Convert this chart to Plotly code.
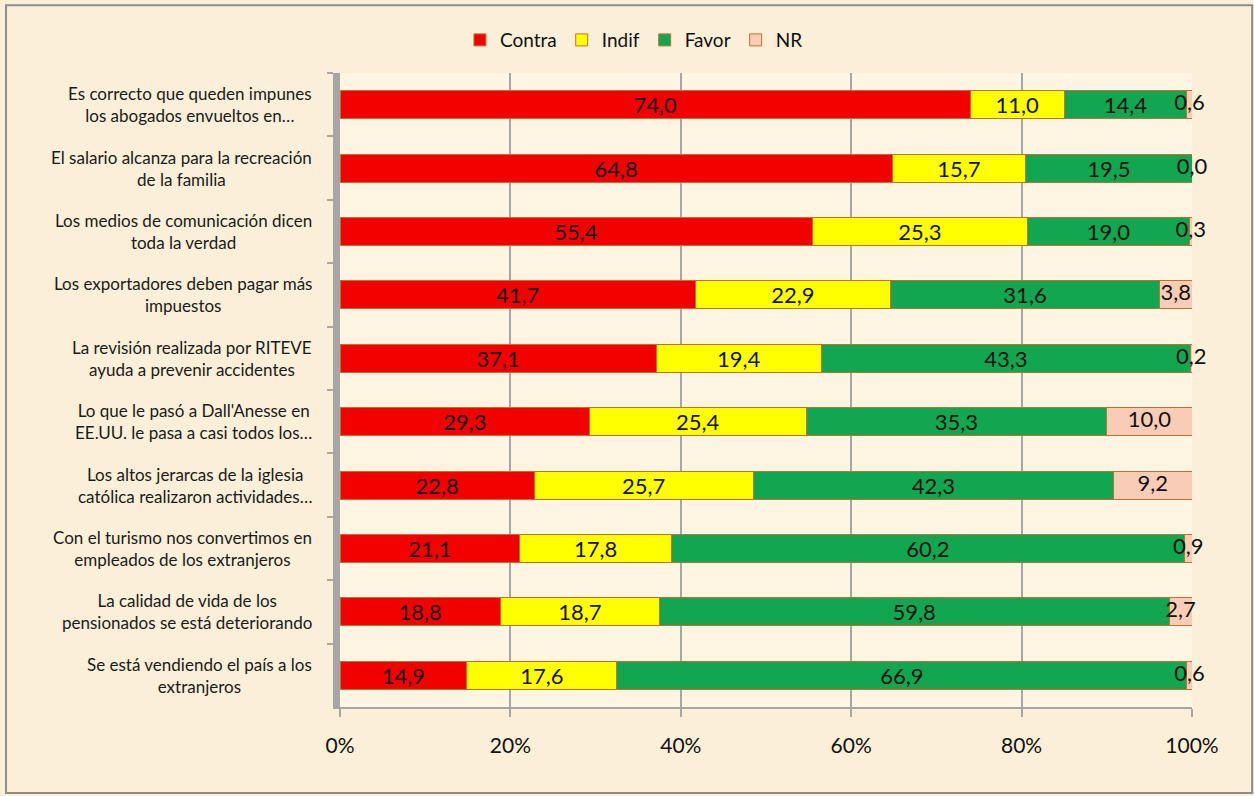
import plotly.graph_objects as go

CATEGORIES = [
    "Es correcto que queden impunes<br>los abogados envueltos en…",
    "El salario alcanza para la recreación<br>de la familia",
    "Los medios de comunicación dicen<br>toda la verdad",
    "Los exportadores deben pagar más<br>impuestos",
    "La revisión realizada por RITEVE<br>ayuda a prevenir accidentes",
    "Lo que le pasó a Dall'Anesse en<br>EE.UU. le pasa a casi todos los…",
    "Los altos jerarcas de la iglesia<br>católica realizaron actividades…",
    "Con el turismo nos convertimos en<br>empleados de los extranjeros",
    "La calidad de vida de los<br>pensionados se está deteriorando",
    "Se está vendiendo el país a los<br>extranjeros",
]

CONTRA = [74.0, 64.8, 55.4, 41.7, 37.1, 29.3, 22.8, 21.1, 18.8, 14.9]
INDIF = [11.0, 15.7, 25.3, 22.9, 19.4, 25.4, 25.7, 17.8, 18.7, 17.6]
FAVOR = [14.4, 19.5, 19.0, 31.6, 43.3, 35.3, 42.3, 60.2, 59.8, 66.9]
NR = [0.6, 0.0, 0.3, 3.8, 0.2, 10.0, 9.2, 0.9, 2.7, 0.6]

SERIES = [
    ("Contra", CONTRA, "#F20000"),
    ("Indif", INDIF, "#FFFF00"),
    ("Favor", FAVOR, "#12A650"),
    ("NR", NR, "#F9CDB5"),
]

FONT = "Lato, 'Open Sans', sans-serif"
LABEL_FONT = dict(size=22, color="#111111", family=FONT)

fig = go.Figure()
for name, vals, color in SERIES:
    is_nr = name == "NR"
    fig.add_trace(go.Bar(
        y=CATEGORIES, x=vals, name=name, orientation="h",
        marker=dict(color=color, line=dict(color="#C07030", width=1)),
        texttemplate=None if is_nr else "%{x:.1f}",
        textposition="none" if is_nr else "inside", textangle=0,
        insidetextanchor="middle", constraintext="none",
        textfont=LABEL_FONT,
    ))

# NR labels sit centred on the (often tiny) last segment, overflowing it
nr_mid = [c + i + f + n / 2 for c, i, f, n in zip(CONTRA, INDIF, FAVOR, NR)]
fig.add_trace(go.Scatter(
    x=nr_mid, y=CATEGORIES, mode="text",
    text=[f"{n:.1f}".replace(".", ",") for n in NR],
    textposition="middle center", textfont=LABEL_FONT,
    showlegend=False, hoverinfo="skip", cliponaxis=False,
))

# category labels, right-aligned block with centred lines (Excel style)
for cat in CATEGORIES:
    fig.add_annotation(
        x=-0.03, xref="paper", y=cat, yref="y",
        text=cat, showarrow=False, xanchor="right", align="center",
        font=dict(size=17, color="#1a1a1a", family=FONT),
    )

fig.update_layout(
    width=1254, height=796,
    barmode="stack", bargap=0.56,
    separators=",.",
    paper_bgcolor="#FBEFD8",
    plot_bgcolor="#FEF6E2",
    margin=dict(l=340, r=62, t=73, b=89),
    font=dict(family=FONT, color="#111111"),
    legend=dict(
        orientation="h", x=0.345, xanchor="center", y=1.052, yanchor="middle",
        traceorder="normal",
        font=dict(size=19, color="#111111", family=FONT),
        bgcolor="rgba(0,0,0,0)", itemwidth=30,
    ),
    showlegend=True,
    shapes=[dict(
        type="rect", xref="paper", yref="paper",
        x0=-0.392, x1=1.0706, y0=-0.1356, y1=1.107,
        line=dict(color="#8C8C8C", width=2), fillcolor="rgba(0,0,0,0)",
        layer="below",
    )],
)

fig.update_xaxes(
    range=[0, 100], dtick=20, ticksuffix="%",
    showgrid=True, gridcolor="#A6A6A6", gridwidth=1.5,
    showline=True, linecolor="#A6A6A6", linewidth=2,
    ticks="outside", ticklen=8, tickcolor="#A6A6A6", tickwidth=2,
    ticklabelstandoff=11,
    tickfont=dict(size=21, color="#111111", family=FONT),
    zeroline=False,
)
fig.update_yaxes(
    autorange="reversed", showticklabels=False,
    showline=True, linecolor="#A6A6A6", linewidth=7,
    ticks="outside", tickson="boundaries", ticklen=6,
    tickcolor="#A6A6A6", tickwidth=2,
    showgrid=False,
)

fig.write_html(
    "out.html",
    config={"displayModeBar": False},
    post_script="document.body.style.margin='0';",
)
